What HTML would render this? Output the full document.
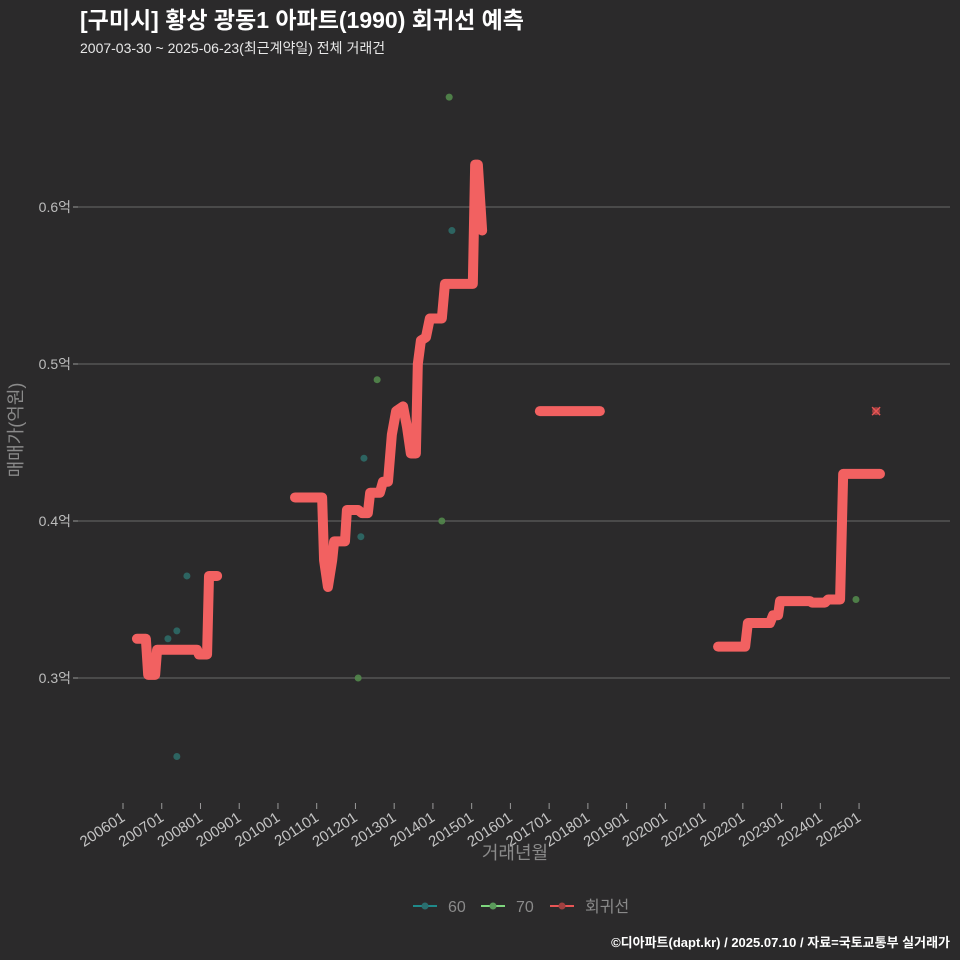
<!DOCTYPE html>
<html><head><meta charset="utf-8"><style>
body{margin:0;background:#2b2a2b;}
svg{display:block;font-family:"Liberation Sans","Noto Sans CJK KR",sans-serif;}
</style></head><body>
<svg id="chart" width="960" height="960" viewBox="0 0 960 960">
<rect width="960" height="960" fill="#2b2a2b"/>
<text x="80" y="28" fill="#ffffff" font-size="23" font-weight="bold">[구미시] 황상 광동1 아파트(1990) 회귀선 예측</text>
<text x="80" y="53" fill="#e8e8e8" font-size="14">2007-03-30 ~ 2025-06-23(최근계약일) 전체 거래건</text>
<g id="grid"></g>
<g id="xaxis"></g>
<g id="yaxis"></g>
<g id="points"></g>
<g id="line"></g>
<text x="515" y="859" fill="#8a8a8a" font-size="18" text-anchor="middle">거래년월</text>
<text transform="translate(22,430) rotate(-90)" fill="#8a8a8a" font-size="18" text-anchor="middle">매매가(억원)</text>
<g>
<g><line x1="413" y1="906" x2="437" y2="906" stroke="#1f8a8a" stroke-width="2"/><circle cx="425" cy="906" r="3.5" fill="#2a6f6f"/><text x="448" y="912" fill="#8a8a8a" font-size="16">60</text></g>
<g><line x1="481" y1="906" x2="505" y2="906" stroke="#7ed67e" stroke-width="2"/><circle cx="493" cy="906" r="3.5" fill="#5a9a5a"/><text x="516" y="912" fill="#8a8a8a" font-size="16">70</text></g>
<g><line x1="550" y1="906" x2="574" y2="906" stroke="#e85555" stroke-width="2"/><circle cx="562" cy="906" r="3.5" fill="#a04040"/><text x="585" y="912" fill="#8a8a8a" font-size="16">회귀선</text></g>
</g>
<text x="950" y="947" fill="#ffffff" font-size="13" font-weight="bold" text-anchor="end">©디아파트(dapt.kr) / 2025.07.10 / 자료=국토교통부 실거래가</text>
</svg>
<script>
const xTickLabels=["200601","200701","200801","200901","201001","201101","201201","201301","201401","201501","201601","201701","201801","201901","202001","202101","202201","202301","202401","202501"];
const yTickValues=[0.3,0.4,0.5,0.6];
const yTickLabels=["0.3억","0.4억","0.5억","0.6억"];
const lineT=[2006.36,2006.59,2006.65,2006.83,2006.88,2007.91,2007.96,2008.17,2008.22,2008.43,null,
2010.44,2011.14,2011.19,2011.29,2011.40,2011.45,2011.73,2011.78,2012.07,2012.17,2012.32,2012.38,2012.63,2012.71,2012.84,2012.94,2013.05,2013.23,2013.33,2013.43,2013.56,2013.61,2013.69,2013.82,2013.92,2014.23,2014.31,2015.03,2015.09,2015.16,2015.27,null,
2016.76,2018.31,null,
2021.36,2022.06,2022.13,2022.70,2022.78,2022.91,2022.96,2023.73,2023.79,2024.12,2024.20,2024.51,2024.59,2025.54];
const lineV=[0.325,0.325,0.302,0.302,0.318,0.318,0.315,0.315,0.365,0.365,null,
0.415,0.415,0.375,0.358,0.375,0.387,0.387,0.407,0.407,0.405,0.405,0.418,0.418,0.425,0.425,0.455,0.47,0.473,0.46,0.443,0.443,0.50,0.515,0.517,0.529,0.529,0.551,0.551,0.627,0.627,0.585,null,
0.47,0.47,null,
0.32,0.32,0.335,0.335,0.34,0.34,0.349,0.349,0.348,0.348,0.35,0.35,0.43,0.43];
const s60T=[2007.16,2007.39,2007.65,2007.39,2012.14,2012.22,2014.49];
const s60V=[0.325,0.33,0.365,0.25,0.39,0.44,0.585];
const s70T=[2012.07,2012.56,2014.23,2014.42,2024.92];
const s70V=[0.30,0.49,0.40,0.67,0.35];
const predT=[2025.44];
const predV=[0.47];

const NS="http://www.w3.org/2000/svg";
function X(t){return 123+(t-2006)*38.74;}
function Y(v){return 678-(v-0.3)*1570;}
function mk(tag,attrs,parent){const e=document.createElementNS(NS,tag);for(const k in attrs)e.setAttribute(k,attrs[k]);parent.appendChild(e);return e;}
const grid=document.getElementById('grid'),xa=document.getElementById('xaxis'),ya=document.getElementById('yaxis');
yTickValues.forEach((v,i)=>{
  const g=mk('line',{x1:78,x2:950,y1:Y(v),y2:Y(v),stroke:'#5e5e5e','stroke-width':1.2},grid);
  
  
  const tk=mk('line',{x1:73,x2:78,y1:Y(v),y2:Y(v),stroke:'#9a9a9a'},ya);
  
  
  const tx=mk('text',{x:71,y:Y(v)+5,fill:'#bdbdbd','font-size':14,'text-anchor':'end'},ya);
  tx.textContent=yTickLabels[i];
  
  
});
xTickLabels.forEach((l,i)=>{
  const x=X(2006+i);
  const tk=mk('line',{x1:x,x2:x,y1:803,y2:809,stroke:'#9a9a9a'},xa);
  
  
  const tx=mk('text',{transform:`translate(${x+3},${820}) rotate(-33)`,fill:'#c4c4c4','font-size':15,'text-anchor':'end'},xa);
  tx.textContent=l;
  
  
});
const pts=document.getElementById('points');
s60T.forEach((t,i)=>{
  const c=mk('circle',{cx:X(t),cy:Y(s60V[i]),r:3.5,fill:'#2d6a67','fill-opacity':0.9},pts);
  
  
});
s70T.forEach((t,i)=>{
  const c=mk('circle',{cx:X(t),cy:Y(s70V[i]),r:3.5,fill:'#52874b','fill-opacity':0.9},pts);
  
  
});
const ln=document.getElementById('line');
let seg=[];
function flush(){
  if(seg.length){
    const p=mk('polyline',{points:seg.join(' '),fill:'none',stroke:'#f26161','stroke-width':10,'stroke-linejoin':'round','stroke-linecap':'round'},ln);
    
    
  }
  seg=[];
}
lineT.forEach((t,i)=>{ if(t===null){flush();} else seg.push(X(t)+','+Y(lineV[i])); });
flush();
predT.forEach((t,i)=>{
  const x=X(t),y=Y(predV[i]);
  const c=mk('circle',{cx:x,cy:y,r:4,fill:'#a04040'},ln);
  
  
  const p=mk('path',{d:`M${x-4},${y-4}L${x+4},${y+4}M${x-4},${y+4}L${x+4},${y-4}`,stroke:'#e85555','stroke-width':1.5},ln);
  
  
});
</script>
</body></html>
